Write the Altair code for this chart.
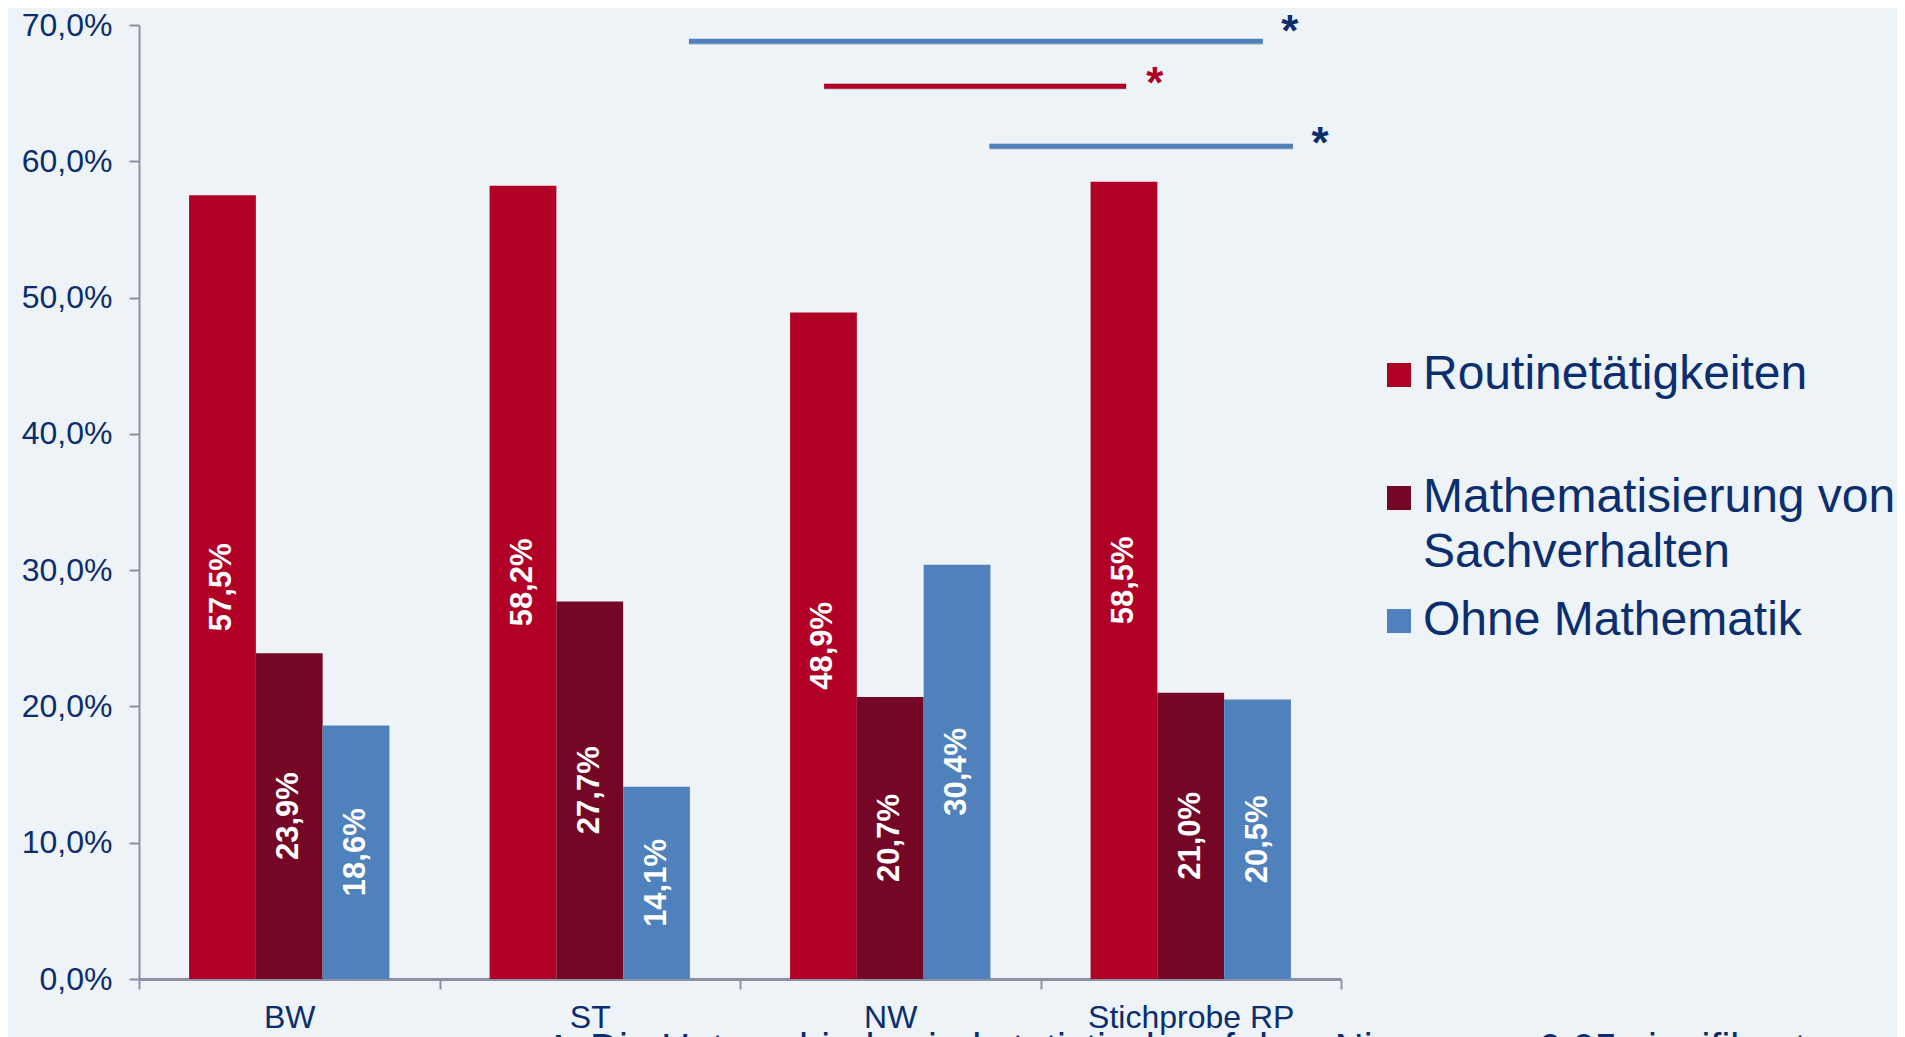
import altair as alt
import pandas as pd

# ---- data ----
categories = ["BW", "ST", "NW", "Stichprobe RP"]
series = ["Routinetätigkeiten", "Mathematisierung von Sachverhalten", "Ohne Mathematik"]
routine = [57.5, 58.2, 48.9, 58.5]
mathematisierung = [23.9, 27.7, 20.7, 21.0]
ohne = [18.6, 14.1, 30.4, 20.5]
y_ticks = [0, 10, 20, 30, 40, 50, 60, 70]

# significance markers (x in category units, y in %)
sig_start = [1.83, 2.28, 2.83]
sig_end = [3.74, 3.285, 3.84]
sig_level = [68.8, 65.5, 61.1]
star_x = [3.83, 3.38, 3.93]
star_level = [70.3, 66.5, 62.1]

footnote = "Die Unterschiede sind statistisch auf dem Niveau α = 0,05 signifikant"

# ---- styles ----
colors = ["#B00026", "#750726", "#4F81BD"]
line_colors = ["#4F81BD", "#B00026", "#4F81BD"]
star_colors = ["#0B2E6E", "#B00026", "#0B2E6E"]
navy = "#0B2E6E"
grey = "#8D90A5"
font = "Liberation Sans"
W, H = 1202, 954

rows = []
for i, c in enumerate(categories):
    for s, vals in zip(series, [routine, mathematisierung, ohne]):
        rows.append({"Kategorie": c, "Serie": s, "Wert": vals[i]})
df = pd.DataFrame(rows)

sig_df = pd.DataFrame({
    "start": sig_start, "end": sig_end, "level": sig_level,
    "lcol": line_colors, "sx": star_x, "slevel": star_level, "scol": star_colors,
})

x_enc = alt.X(
    "Kategorie:N", sort=categories,
    scale=alt.Scale(paddingInner=0, paddingOuter=0),
    axis=alt.Axis(
        title=None, labelAngle=0, tickBand="extent", labelFont=font,
        labelFontSize=32, labelColor=navy, labelPadding=13, labelLimit=0,
        domainColor=grey, domainWidth=3, tickColor=grey, tickWidth=2,
        tickSize=10, grid=False,
    ),
)
xoff_enc = alt.XOffset("Serie:N", sort=series,
                       scale=alt.Scale(paddingInner=0, paddingOuter=0.75))
y_scale = alt.Scale(domain=[0, 70], nice=False, zero=True)

legend = alt.Legend(
    title=None, orient="none", legendX=1236, legendY=326,
    symbolType="square", symbolSize=576, symbolStrokeWidth=0,
    labelFont=font, labelFontSize=48, labelColor=navy, labelLimit=800,
    labelOffset=0, rowPadding=20, padding=0,
    labelExpr="datum.label == 'Mathematisierung von Sachverhalten' ? ['Mathematisierung von', 'Sachverhalten'] : [datum.label, '']",
)

bars = alt.Chart(df).mark_bar().encode(
    x=x_enc,
    xOffset=xoff_enc,
    y=alt.Y("Wert:Q", scale=y_scale, axis=alt.Axis(
        title=None, values=y_ticks, grid=False, labelFont=font,
        labelFontSize=32, labelColor=navy, labelPadding=17,
        labelExpr="replace(format(datum.value, '.1f'), '.', ',') + '%'",
        domainColor=grey, domainWidth=2, tickColor=grey, tickWidth=2, tickSize=10,
    )),
    color=alt.Color("Serie:N", sort=series,
                    scale=alt.Scale(domain=series, range=colors), legend=legend),
)

labels = alt.Chart(df).transform_calculate(
    mid="datum.Wert / 2",
    lab="replace(format(datum.Wert, '.1f'), '.', ',') + '%'",
).mark_text(angle=270, color="white", fontWeight="bold", fontSize=31,
            font=font, baseline="middle", align="center").encode(
    x=alt.X("Kategorie:N", sort=categories),
    xOffset=alt.XOffset("Serie:N", sort=series),
    y=alt.Y("mid:Q", scale=y_scale),
    text="lab:N",
)

bars_layer = alt.layer(bars, labels)

xq = alt.X("start:Q", scale=alt.Scale(domain=[0, 4], nice=False, zero=False), axis=None)

shadow = alt.Chart(sig_df).transform_calculate(
    sl="datum.level - 0.04"
).mark_rule(strokeWidth=6, color="#8E8E8E", opacity=0.35).encode(
    x=xq, x2="end:Q", y=alt.Y("sl:Q", scale=y_scale),
)
rules = alt.Chart(sig_df).mark_rule(strokeWidth=5).encode(
    x=xq, x2="end:Q", y=alt.Y("level:Q", scale=y_scale),
    color=alt.Color("lcol:N", scale=None),
)
stars = alt.Chart(sig_df).transform_calculate(t="'*'").mark_text(
    fontSize=44, fontWeight="bold", font=font, align="center",
    baseline="alphabetic", dy=25,
).encode(
    x=alt.X("sx:Q", scale=alt.Scale(domain=[0, 4], nice=False, zero=False), axis=None),
    y=alt.Y("slevel:Q", scale=y_scale),
    color=alt.Color("scol:N", scale=None),
    text="t:N",
)

note_df = pd.DataFrame({"t": [footnote], "s": ["*"]})
note_star = alt.Chart(note_df).mark_text(
    fontSize=48, fontWeight="bold", font=font, color=navy, align="left",
    baseline="alphabetic",
).encode(x=alt.value(410), y=alt.value(1043), text="s:N")
note_text = alt.Chart(note_df).mark_text(
    fontSize=40, font=font, color=navy, align="left", baseline="alphabetic",
).encode(x=alt.value(451), y=alt.value(1037), text="t:N")

sig_layer = alt.layer(shadow, rules, stars)

chart = alt.layer(bars_layer, sig_layer, note_star, note_text).resolve_scale(
    x="independent"
).properties(
    width=W, height=H,
    padding={"left": 131, "top": 17, "right": 556, "bottom": 120},
    autosize=alt.AutoSizeParams(type="none"),
).configure(
    background="#EEF3F7",
    style={"guide-label": {"lineHeight": 55}},
).configure_view(stroke=None)

chart.save("out.html", embed_options={"renderer": "svg", "actions": False})
